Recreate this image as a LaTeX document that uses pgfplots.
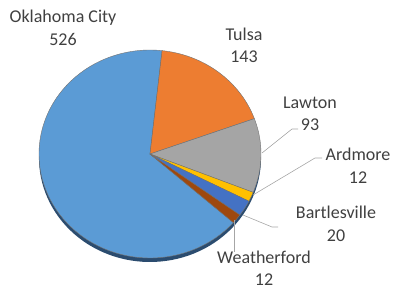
\documentclass[border=0pt]{standalone}
\usepackage{pgfplots}
\usepackage{pgfplotstable}
\pgfplotsset{compat=1.18}
\usepackage{fontspec}
\setmainfont{Carlito}

\definecolor{cOKC}{HTML}{5B9BD5}
\definecolor{cTul}{HTML}{ED7D31}
\definecolor{cLaw}{HTML}{A5A5A5}
\definecolor{cArd}{HTML}{FFC000}
\definecolor{cBar}{HTML}{4472C4}
\definecolor{cWea}{HTML}{9E480E}
\definecolor{txt}{HTML}{404040}
\definecolor{lead}{HTML}{A6A6A6}
\definecolor{rim}{HTML}{2B4C6F}

\pgfplotstableread[col sep=comma]{
city,value
Oklahoma City,526
Tulsa,143
Lawton,93
Ardmore,12
Bartlesville,20
Weatherford,12
}\pietable

\newcommand\getval[2]{\pgfplotstablegetelem{#1}{value}\of\pietable\global\let#2\pgfplotsretval}
\tikzset{lbl/.style={font=\fontsize{18}{22.5}\selectfont, text=txt, align=center, inner sep=0pt}}

\begin{document}
\begin{tikzpicture}
\getval{0}\vA
\getval{1}\vB
\getval{2}\vC
\getval{3}\vD
\getval{4}\vE
\getval{5}\vF
\pgfmathsetmacro\total{\vA+\vB+\vC+\vD+\vE+\vF}
\pgfmathsetmacro\aA{-41.3}
\pgfmathsetmacro\aB{\aA-360*(\vA/\total)}
\pgfmathsetmacro\aC{\aB-360*(\vB/\total)}
\pgfmathsetmacro\aD{\aC-360*(\vC/\total)}
\pgfmathsetmacro\aE{\aD-360*(\vD/\total)}
\pgfmathsetmacro\aF{\aE-360*(\vE/\total)}
\pgfmathsetmacro\aG{\aF-360*(\vF/\total)}
\path[use as bounding box] (0,0) rectangle (394pt,291pt);
\begin{axis}[
  at={(0,0)}, anchor=south west,
  width=394pt, height=291pt, scale only axis,
  xmin=0, xmax=394, ymin=0, ymax=291, y dir=reverse,
  hide axis, clip=false,
]
% 3D rim
\addplot[fill=rim, draw=none, domain=0:360, samples=120] ({150+111*cos(x)},{158-104*sin(x)}) -- cycle;
% slices
\addplot[fill=cOKC, draw=black!55, line width=0.4pt, domain=\aB:\aA, samples=120] ({150+111*cos(x)},{154-104*sin(x)}) -- (axis cs:150,154) -- cycle;
\addplot[fill=cTul, draw=black!55, line width=0.4pt, domain=\aC:\aB, samples=40] ({150+111*cos(x)},{154-104*sin(x)}) -- (axis cs:150,154) -- cycle;
\addplot[fill=cLaw, draw=black!55, line width=0.4pt, domain=\aD:\aC, samples=30] ({150+111*cos(x)},{154-104*sin(x)}) -- (axis cs:150,154) -- cycle;
\addplot[fill=cArd, draw=black!55, line width=0.4pt, domain=\aE:\aD, samples=6] ({150+111*cos(x)},{154-104*sin(x)}) -- (axis cs:150,154) -- cycle;
\addplot[fill=cBar, draw=black!55, line width=0.4pt, domain=\aF:\aE, samples=8] ({150+111*cos(x)},{154-104*sin(x)}) -- (axis cs:150,154) -- cycle;
\addplot[fill=cWea, draw=black!55, line width=0.4pt, domain=\aG:\aF, samples=6] ({150+111*cos(x)},{154-104*sin(x)}) -- (axis cs:150,154) -- cycle;
% leader lines
\draw[lead, line width=0.6pt] (axis cs:262,153) -- (axis cs:292,129) -- (axis cs:298,129);
\draw[lead, line width=0.6pt] (axis cs:253,195) -- (axis cs:315,158) -- (axis cs:322,158);
\draw[lead, line width=0.6pt] (axis cs:243,215) -- (axis cs:272,227) -- (axis cs:278,227);
\draw[lead, line width=0.6pt] (axis cs:234,220) -- (axis cs:234,252);
% labels
\node[lbl] at (axis cs:63,28) {Oklahoma City\\526};
\node[lbl] at (axis cs:244,45.5) {Tulsa\\143};
\node[lbl] at (axis cs:310,114) {Lawton\\93};
\node[lbl] at (axis cs:358,166) {Ardmore\\12};
\node[lbl] at (axis cs:336,224) {Bartlesville\\20};
\node[lbl] at (axis cs:264,268.5) {Weatherford\\12};
\end{axis}
\end{tikzpicture}
\end{document}
